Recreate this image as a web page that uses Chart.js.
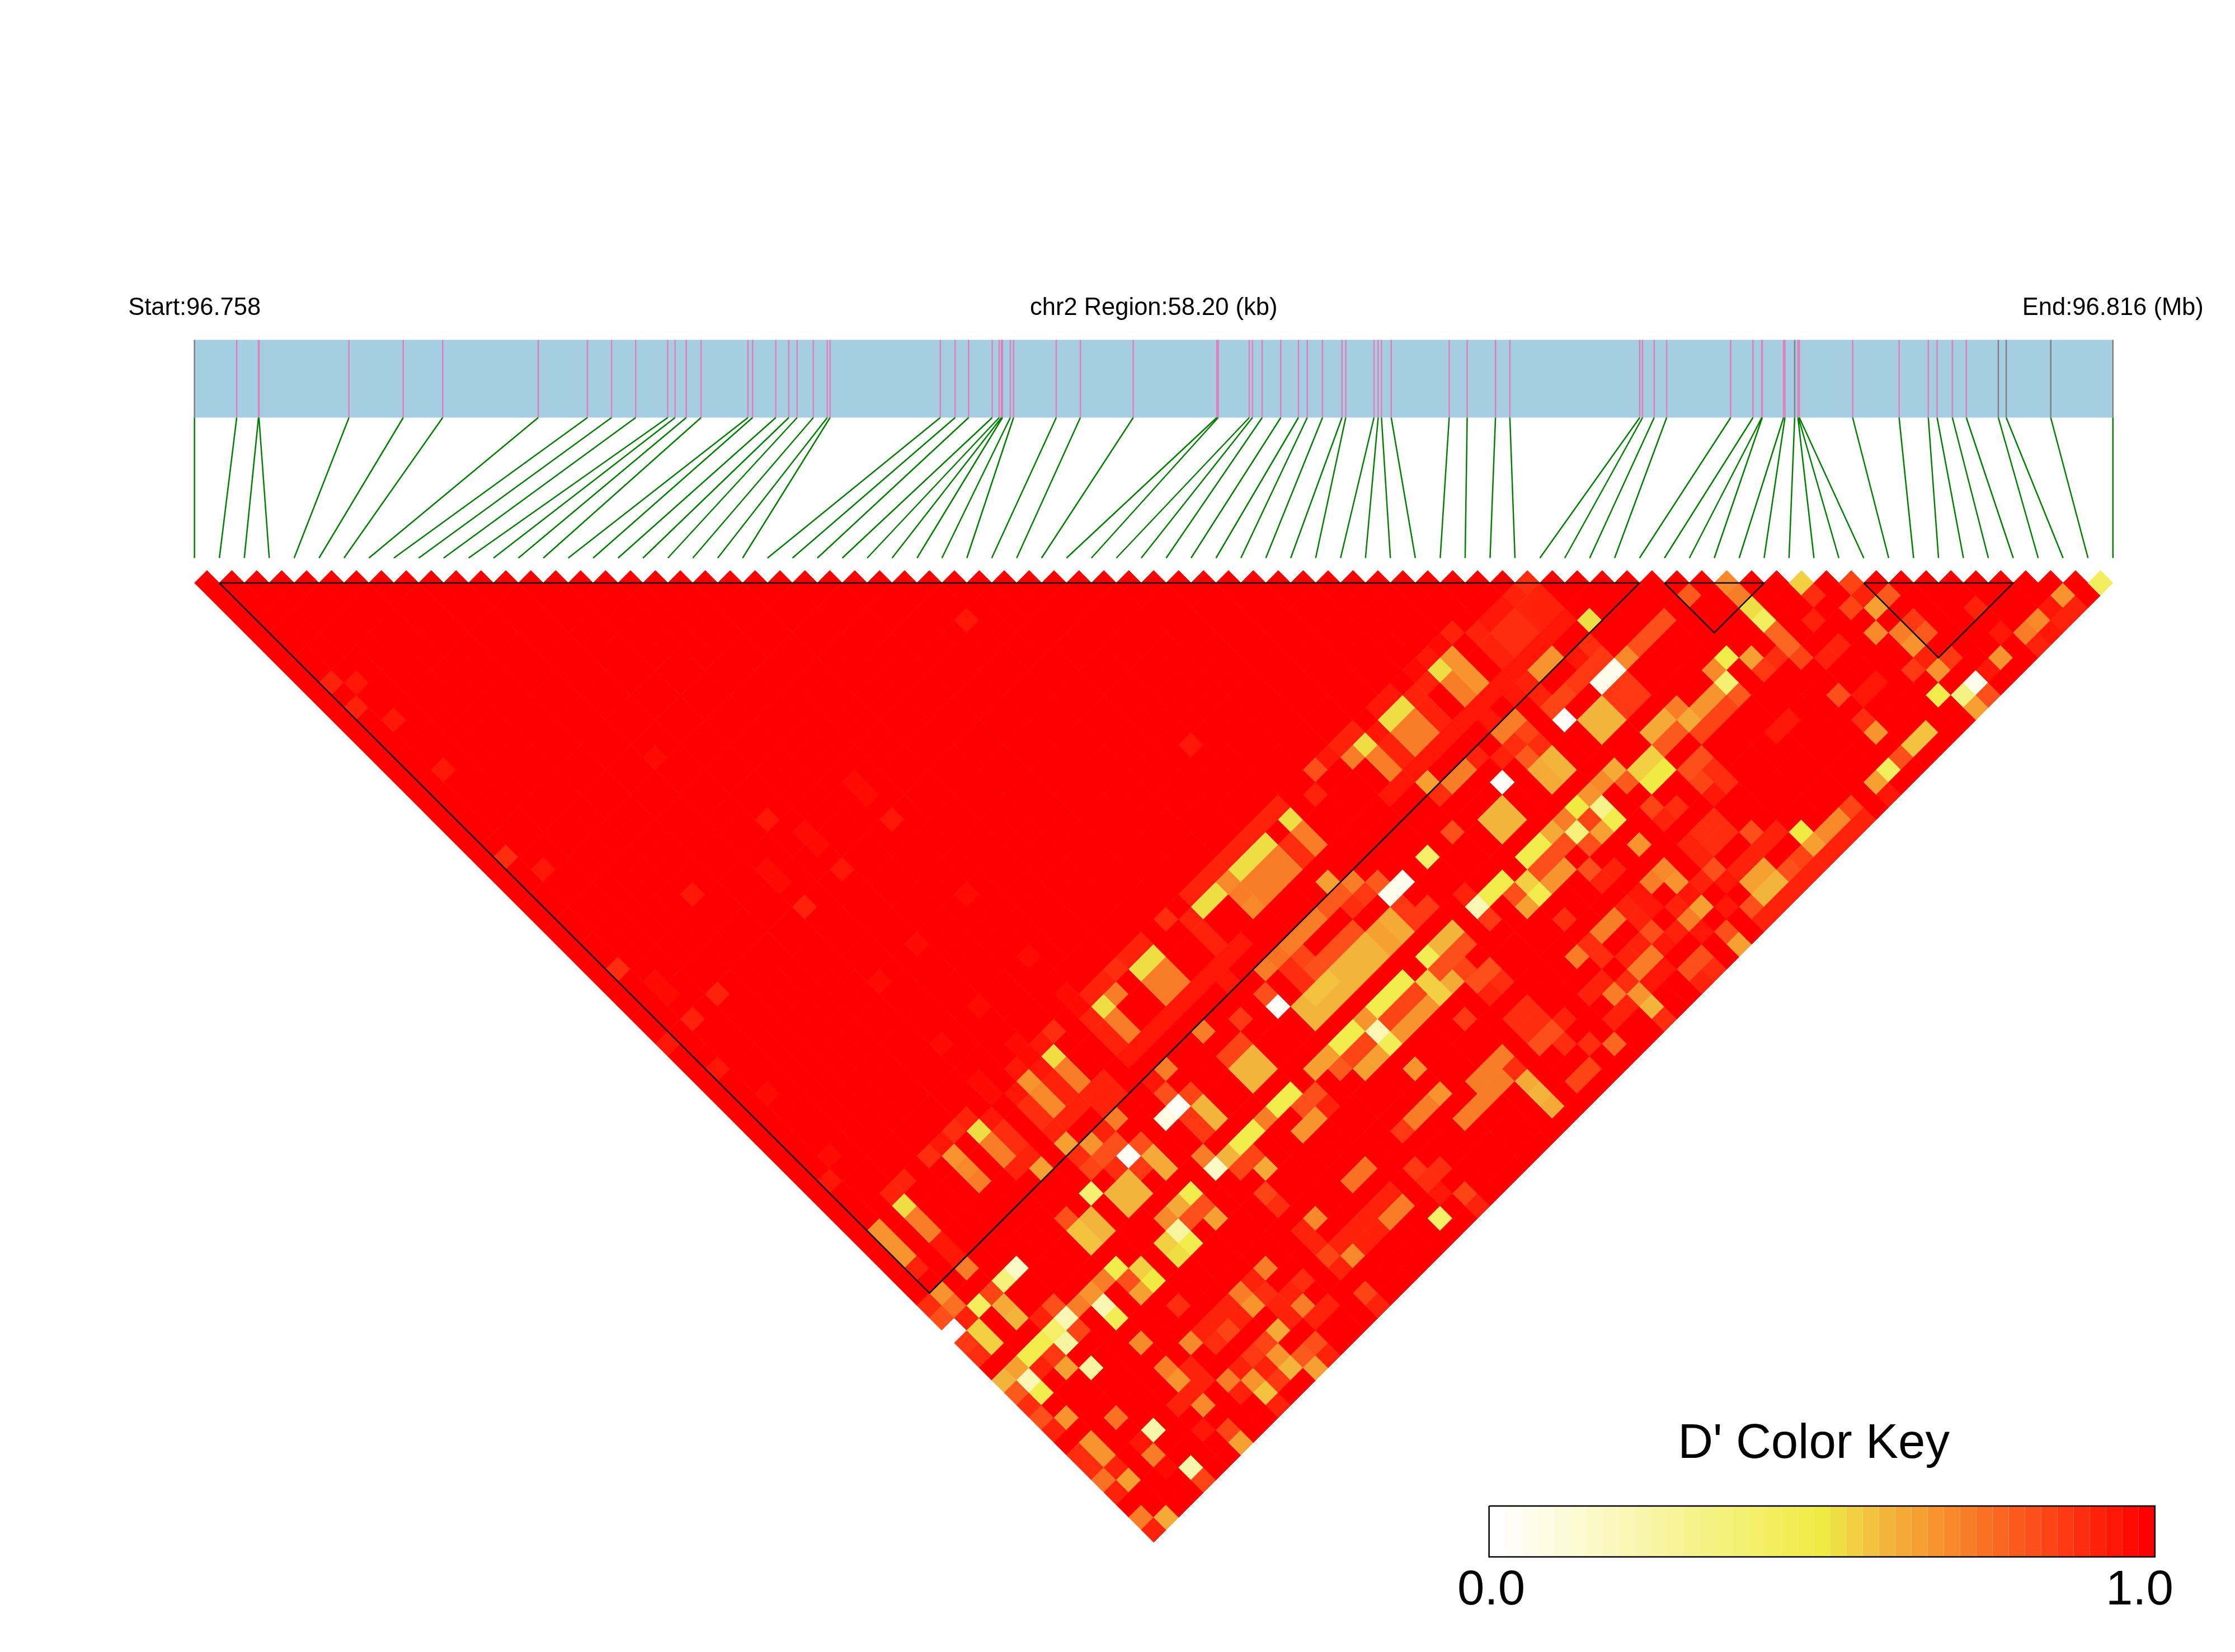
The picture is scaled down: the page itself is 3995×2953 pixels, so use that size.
<!DOCTYPE html>
<html>
<head>
<meta charset="utf-8">
<style>
body { margin: 0; background: #fff; }
canvas { display: block; }
</style>
<script src="https://cdn.jsdelivr.net/npm/chart.js@4"></script>
</head>
<body>
<canvas id="ld" width="3995" height="2953"></canvas>
<script>
// SNP positions along the region, in kb from the start
const snpKb = [0, 1.281, 1.942, 1.956, 4.686, 6.333, 7.529, 10.428, 11.92, 12.652, 13.385, 14.356, 14.58, 14.918, 15.368,
    16.79, 16.931, 17.635, 18.029, 18.282, 18.774, 19.197, 19.282, 22.625, 23.075, 23.484, 24.202, 24.412, 24.482, 24.511,
    24.75, 24.848, 26.144, 26.875, 28.479, 31.013, 31.056, 31.998, 32.096, 32.391, 32.955, 33.49, 33.758, 34.221, 34.813,
    34.926, 35.784, 35.91, 36.01, 36.306, 38.064, 38.61, 39.469, 39.905, 43.845, 43.93, 44.283, 44.661, 46.604, 47.28,
    47.547, 47.562, 48.208, 48.251, 48.546, 48.644, 48.658, 48.687, 50.304, 51.713, 52.599, 52.867, 53.33, 53.753, 54.724,
    54.963, 56.314, 58.2];
const greyTicks = [0, 64, 74, 75, 76, 77];
const regionKb = 58.2;

// LD blocks, first and last SNP
const blocks = [[1, 58], [59, 63], [67, 73]];

// pairs that are not D'=1, as [i+j, j-i, D']
const weakCells = [
    // faint ones in the big block
    [62,4,.94],[11,9,.93],[13,9,.96],[13,11,.93],[16,12,.96],[20,16,.96],[37,15,.97],[53,17,.97],[54,18,.97],[46,20,.95],
    [56,20,.95],[49,21,.97],[50,22,.97],[25,23,.9],[28,24,.95],[46,24,.97],[47,25,.97],[52,24,.95],[40,26,.95],[49,27,.92],
    [62,26,.97],[58,30,.97],[67,31,.97],[34,32,.9],[37,33,.98],[38,34,.98],[42,34,.92],[40,36,.92],[38,38,.95],[42,40,.96],
    [46,42,.98],[55,33,.98],[63,35,.98],[60,38,.98],[51,47,.98],[51,49,.96],[57,49,.95],[80,14,.95],
    // left edge of the coloured zone
    [69,37,.9],[68,38,.94],[66,38,.98],[67,39,.98],[69,39,.52],[68,40,.95],[69,41,.93],[70,42,.93],[70,40,.72],[71,41,.72],
    [66,40,.95],[67,41,.68],[68,42,.7],[69,43,.7],[66,42,.95],[67,43,.9],[68,44,.9],[63,41,.98],[64,42,.98],
    [73,41,.93],[72,42,.93],[71,43,.93],[70,44,.93],[69,45,.93],[74,42,.93],[73,43,.93],
    [73,35,.52],[74,34,.72],[73,33,.92],[72,34,.92],[74,32,.9],[70,34,.97],[71,35,.97],[72,36,.93],[73,37,.93],[74,38,.93],
    [74,36,.72],[75,37,.72],[75,39,.95],[76,38,.95],[77,37,.95],[78,36,.95],[79,35,.95],[80,34,.95],[81,33,.95],[82,32,.95],
    [83,31,.95],[84,30,.95],[83,33,.94],[76,32,.52],[77,31,.52],[75,31,.93],[76,30,.93],
    [63,45,.52],[62,44,.92],[64,44,.95],[61,45,.9],[60,46,.95],[59,47,.9],[65,45,.9],[66,46,.9],[64,46,.72],[65,47,.72],
    [61,47,.67],[62,48,.7],[67,47,.93],[68,48,.66],[66,48,.93],[70,46,.66],[72,46,.68],[73,45,.93],[74,44,.72],[71,47,.9],
    [72,48,.85],[73,47,.82],[74,46,.82],[75,47,.02],[76,46,.82],[77,47,.62],[78,48,.62],[74,48,.9],[76,48,.88],[78,44,.08],
    [79,43,.03],[78,42,.82],[77,41,.95],[78,40,.72],
    // upper part of the zone
    [101,5,.92],[100,6,.97],[99,7,.95],[98,8,.97],[101,7,.68],[100,8,.52],[102,8,.68],[103,9,.68],[101,9,.72],[102,10,.72],
    [103,5,.92],[104,6,.92],[105,7,.92],[104,4,.94],[105,3,.94],[106,2,.94],[96,10,.94],[95,11,.94],[97,11,.52],[96,12,.52],
    [98,10,.93],[99,9,.93],[99,11,.93],[100,12,.93],[104,10,.94],[103,11,.94],[102,12,.94],[101,13,.94],[100,14,.94],[99,15,.94],
    [98,16,.94],[97,17,.94],[96,18,.94],[105,9,.94],[104,12,.94],[103,15,.93],[102,16,.72],[101,17,.72],[99,17,.65],[100,18,.9],
    [98,12,.72],[97,13,.72],[99,13,.72],[98,14,.72],[96,14,.93],[97,15,.93],[95,13,.95],[94,14,.52],[93,13,.92],[92,14,.92],
    [91,15,.95],[90,16,.82],[93,15,.72],[95,15,.72],[96,16,.72],[90,18,.92],[87,19,.94],
    [107,1,.9],[123,1,.7],[129,1,.54],[133,1,.84],[153,1,.42],[106,2,.93],[108,2,.93],[120,2,.8],[124,2,.72],[130,2,.9],
    [134,2,.92],[136,2,.8],[150,2,.68],[105,3,.94],[107,3,.92],[109,3,.92],[125,3,.53],[135,3,.66],[133,3,.85],[143,3,.92],
    [149,3,.94],[151,3,.93],[106,4,.9],[108,4,.92],[110,4,.94],[112,4,.52],[126,4,.42],[118,4,.82],[130,4,.93],[138,4,.88],
    [148,4,.7],[150,4,.93],[105,5,.9],[107,5,.9],[109,5,.94],[117,5,.82],[127,5,.78],[135,5,.7],[137,5,.72],[139,5,.8],
    [145,5,.95],[147,5,.72],[149,5,.95],[106,6,.9],[108,6,.94],[112,6,.9],[116,6,.82],[128,6,.78],[132,6,.93],[138,6,.68],
    [148,6,.93],[107,7,.94],[109,7,.67],[111,7,.95],[113,7,.88],[115,7,.7],[123,7,.47],[125,7,.66],[127,7,.9],[129,7,.85],
    [131,7,.93],[139,7,.92],[141,7,.88],[145,7,.68],[106,8,.94],[108,8,.67],[112,8,.88],[114,8,.05],[122,8,.7],[126,8,.88],
    [138,8,.88],[140,8,.68],[144,8,.95],[107,9,.93],[111,9,.88],[113,9,.05],[115,9,.88],[123,9,.38],[135,9,.96],[143,9,.06],
    [106,10,.96],[108,10,.93],[110,10,.85],[114,10,.88],[116,10,.88],[122,10,.68],[124,10,.8],[132,10,.83],[134,10,.96],[140,10,.47],
    [142,10,.33],[144,10,.82],[109,11,.85],[113,11,.6],[115,11,.88],[119,11,.72],[121,11,.68],[123,11,.85],[143,11,.65],
    [106,12,.72],[110,12,.02],[112,12,.6],[114,12,.6],[118,12,.62],[120,12,.62],[122,12,.85],[128,12,.95],[134,12,.9],
    [105,13,.72],[107,13,.85],[113,13,.6],[117,13,.62],[119,13,.8],[121,13,.85],[127,13,.95],[135,13,.67],[139,13,.57],
    [106,14,.9],[108,14,.9],[118,14,.8],[138,14,.57],[103,15,.92],[105,15,.92],[107,15,.8],[109,15,.6],[117,15,.55],[121,15,.83],
    [137,15,.82],[108,16,.63],[110,16,.6],[114,16,.62],[116,16,.55],[118,16,.51],[120,16,.83],[122,16,.9],[136,16,.42],
    [105,17,.03],[109,17,.63],[113,17,.7],[115,17,.8],[117,17,.51],[121,17,.85],[123,17,.9],[135,17,.66],[112,18,.68],[122,18,.95],
    [136,18,.94],[105,19,.6],[111,19,.5],[113,19,.3],[117,19,.85],[119,19,.9],[133,19,.85],[104,20,.6],[106,20,.6],[110,20,.72],
    [112,20,.85],[114,20,.47],[118,20,.92],[122,20,.9],[132,20,.7],[134,20,.93],[101,21,.82],[105,21,.6],
    [129,21,.5],[131,21,.7],[103,22,.56],[130,22,.66],[99,23,.4],[102,23,.56],[104,23,.58],[103,24,.58],
    [97,25,.04],[105,25,.47],[96,26,.05],[102,26,.93],[104,26,.47],[98,27,.88],[103,27,.2],
    [97,27,.88],[99,27,.88],[104,28,.88],[96,28,.62],[98,28,.88],
    [131,23,.93],[130,24,.93],[129,25,.93],[133,21,.93],[132,22,.93],[129,23,.85],
    // right side window, read cell by cell
    [107,23,.47],[108,22,.47],[109,21,.62],[110,22,.82],[109,23,.82],[108,24,.82],[111,21,.35],[112,22,.82],[113,21,.65],
    [110,24,.67],[109,25,.67],[112,24,.83],[113,25,.93],[114,24,.93],[107,25,.55],[108,26,.48],[107,27,.65],[106,26,.82],[110,28,.9],
    [116,22,.67],[118,24,.7],[117,25,.73],[119,25,.68],[121,27,.64],[120,28,.72],[114,28,.72],[113,29,.72],[111,31,.72],
    [126,24,.66],[125,25,.66],[127,25,.6],[126,26,.6],[120,22,.92],[121,23,.92],[121,21,.9],[122,22,.9],[123,21,.9],
    [125,21,.83],[125,23,.92],[124,24,.92],[126,22,.92],[127,21,.92],[122,24,.83],[121,25,.93],[120,26,.95],[123,25,.95],[128,24,.83],
    [119,27,.92],[116,26,.94],[117,27,.94],[115,27,.92],[116,28,.92],[117,29,.83],[119,29,.93],[118,30,.95],[121,29,.95],
    [116,30,.92],[115,31,.92],[117,31,.72],[116,32,.72],[112,30,.9],[113,31,.9],[113,33,.92],[112,34,.92],
    [115,33,.9],[114,34,.72],[116,34,.68],[117,35,.6],[118,36,.9],[115,35,.93],[114,36,.93],[118,32,.95],[117,33,.95],
    [121,31,.82],[120,32,.82],[122,32,.9],[121,33,.92],[123,29,.82],[124,30,.66],[125,27,.83],[126,28,.93],[127,27,.92],[123,27,.95],[128,26,.92],
    [107,35,.9],[106,36,.9],[108,36,.9],[107,37,.9],[110,36,.92],[109,37,.82],[108,38,.82],[110,38,.9],[112,38,.9],[114,38,.78],
    // strips under the window
    [105,39,.72],[104,40,.72],[103,41,.72],[104,42,.72],[103,43,.72],[102,44,.72],[105,41,.72],[100,42,.68],[99,43,.72],[98,44,.72],
    [107,41,.62],[108,42,.6],[109,43,.62],[112,40,.85],[111,41,.85],[106,40,.9],
    // middle of the zone
    [86,22,.52],[85,23,.52],[84,24,.52],[82,26,.52],[81,27,.52],[88,20,.52],[87,19,.92],[86,20,.92],[85,21,.93],[84,22,.93],
    [83,23,.93],[82,24,.93],[81,25,.93],[80,26,.93],[89,21,.72],[90,22,.72],[88,22,.9],[89,23,.9],[86,24,.72],[87,23,.72],
    [88,24,.72],[87,25,.72],[85,25,.72],[83,25,.7],[84,26,.72],[85,27,.7],[86,26,.72],
    [78,28,.9],[80,28,.93],[81,29,.93],[82,30,.93],[77,33,.72],[78,32,.72],[79,33,.72],[78,34,.72],
    [91,25,.64],[93,25,.72],[92,26,.8],[91,27,.8],[95,25,.8],[94,26,.88],[93,27,.9],[97,29,.62],[95,29,.66],[96,30,.66],
    [94,30,.6],[93,31,.6],[92,32,.6],[95,31,.6],[94,32,.6],[93,33,.6],[91,33,.58],[90,34,.58],[92,34,.6],
    [91,35,.6],[89,35,.6],[90,36,.6],[91,31,.83],[90,32,.83],[92,30,.83],[93,29,.83],[90,28,.72],[89,29,.72],[88,30,.72],
    [86,32,.72],[87,31,.75],[89,31,.85],[89,33,.9],[88,32,.9],[86,34,.82],[87,35,.03],[101,29,.6],[100,30,.6],
    [102,30,.82],[101,31,.82],[99,31,.45],[100,32,.82],[99,33,.54],[100,34,.54],[101,33,.63],[97,33,.47],[96,34,.47],[95,35,.47],
    [94,36,.67],[95,37,.2],[96,38,.45],[93,37,.47],[92,38,.47],[94,38,.85],[98,34,.85],[97,35,.85],[96,36,.85],[99,35,.67],
    [98,36,.67],[97,37,.67],[93,39,.85],[91,39,.66],[90,40,.66],[92,40,.8],[95,39,.65],[94,40,.65],[102,32,.85],[104,32,.83],
    [103,33,.83],[105,33,.9],[104,34,.92],[102,36,.88],[98,40,.68],[88,42,.47],[87,43,.47],[90,42,.82],[89,43,.82],[91,43,.92],
    [86,44,.72],[89,45,.68],[90,44,.68],[85,45,.47],[84,46,.47],[83,47,.6],[82,48,.15],[85,47,.85],[86,48,.72],[85,39,.6],
    [84,40,.6],[86,40,.6],[85,41,.6],[83,39,.85],[84,38,.85],[84,36,.88],[81,37,.72],[80,42,.85],[81,43,.6],[82,44,.6],
    [80,44,.88],[81,45,.88],
    // lower part
    [80,50,.47],[79,51,.62],[81,51,.82],[82,52,.65],[78,52,.7],[80,52,.82],[79,53,.25],[78,54,.55],[80,54,.47],[79,55,.52],
    [72,50,.37],[75,49,.6],[74,50,.6],[76,50,.6],[75,51,.6],[72,52,.6],[71,53,.58],[73,53,.6],[72,54,.58],[70,52,.82],
    [66,56,.15],[65,57,.35],[63,59,.42],[65,59,.62],[66,60,.6],[64,58,.85],[60,58,.68],[61,59,.75],[59,59,.9],[60,60,.82],
    [62,60,.93],[57,51,.52],[56,50,.93],[57,49,.92],[55,53,.68],[56,54,.68],[57,55,.68],[58,52,.72],[59,53,.72],[60,54,.95],
    [61,55,.95],[62,56,.72],[63,49,.72],[58,56,.93],[63,61,.55],[64,62,.55],[62,62,.88],[63,63,.9],[61,61,0],[66,64,.65],
    [68,62,.47],[67,63,.47],[67,65,.2],[68,66,.47],[65,65,.6],[66,66,.8],[67,67,.9],[70,60,.2],[69,61,.4],[70,62,.25],
    [69,59,.82],[68,60,.92],[71,59,.72],[72,58,.68],[73,59,.2],[74,60,.45],[73,57,.72],[74,56,.47],[76,56,.55],[77,57,.5],
    [76,58,.65],[75,57,.82],[71,61,.85],[69,63,.88],[70,64,.65],[72,64,.25],[68,64,.92],[70,68,.68],[68,68,.82],[69,69,.92],
    [74,68,.75],[77,69,.22],[72,70,.68],[73,71,.68],[71,71,.9],[72,72,.9],[73,73,.75],[75,73,.65],[74,72,.92],[74,74,.92],
    [76,70,.95],[77,71,.72],[78,72,.97],[80,72,.22],[81,73,.85],[76,76,.72],[78,76,.62],[77,77,.92],[81,69,.95],[83,69,.85],
    [84,70,.65],[79,67,.92],[81,67,.7],[80,66,.92],[78,64,.72],[79,65,.68],[76,62,.7],[80,62,.7],[81,61,.92],[82,62,.9],
    [79,59,.9],[86,56,.72],[84,58,.72],[85,59,.68],[87,61,.62],[88,64,.6],[87,63,.67],[86,66,.58],[90,64,.65],[89,63,.8],
    [89,59,.72],[91,59,.92],[89,57,.9],[90,52,.7],[93,49,.75],[94,48,.75],[86,50,.85],[87,51,.9],[100,52,.4],[97,51,.72],
    [96,52,.72],[93,55,.7],[91,55,.85],[94,58,.85],[81,47,.72],[86,48,.62],[84,48,.85],
    // lower right strips
    [99,46,.9],[98,47,.9],[101,46,.72],[102,45,.66],[100,47,.72],[98,48,.88],[99,49,.9],[100,48,.9],[102,50,.85],[100,50,.95],
    [103,51,.92],[96,50,.92],[95,51,.92],[94,52,.92],[93,53,.92],[92,54,.92],[95,53,.92],[94,54,.92],[89,53,.92],[90,54,.92],
    [92,56,.92],[95,59,.92],[88,58,.92],[87,59,.92],[86,58,.9],[85,57,.92],[83,59,.92],[84,60,.92],[86,62,.85],[88,60,.92],
    [90,60,.92],[90,62,.82],[91,63,.92],[84,64,.92],[83,65,.72],[86,64,.92],[85,65,.68],[87,65,.88],[84,66,.92],[81,65,.92],
    [80,64,.92],[82,60,.92],[83,61,.85],[85,63,.88],[87,67,.92],[97,45,.88]
];

// colour key: D' at each stop, and r g b
const keySteps = 41;
const rampStops = [0, .5, .525, .55, .6, .65, .8, 1];
const rampColors = [[255,255,255], [240,235,65], [238,222,68], [242,208,66], [243,180,60], [246,160,50], [252,90,28], [255,0,0]];

const labelStart = 'Start:96.758', labelRegion = 'chr2 Region:58.20 (kb)', labelEnd = 'End:96.816 (Mb)';
const keyTitle = "D' Color Key", keyLow = '0.0', keyHigh = '1.0';

function dColor(d) {
    // the key is made of discrete steps
    const v = Math.round(d * (keySteps - 1)) / (keySteps - 1);
    let k = 0;
    while (k < rampStops.length - 2 && v > rampStops[k + 1]) k++;
    const t = (v - rampStops[k]) / (rampStops[k + 1] - rampStops[k]);
    const c = rampColors[k].map((x, n) => Math.round(x + (rampColors[k + 1][n] - x) * t));
    return `rgb(${c[0]},${c[1]},${c[2]})`;
}

const snpCount = snpKb.length;
const weak = {};
weakCells.forEach(c => { weak[c[0] + '_' + c[1]] = c[2]; });

const cellData = [];
const cellColors = [];
for (let i = 0; i < snpCount; i++) {
    for (let j = i + 1; j < snpCount; j++) {
        const key = (i + j) + '_' + (j - i);
        cellData.push({ x: (i + j) / 2, y: j - i });
        cellColors.push(dColor(key in weak ? weak[key] : 1));
    }
}

const toMarker = kb => kb / regionKb * (snpCount - 1);

// page rows of the gene band and the connector lines
const bandTop = 607.5, bandBottom = 746.5, connectBottom = 997.5;
const keyTop = 2692, keyBottom = 2783;

const pinkTicks = [], greyTickPts = [], connectors = [];
snpKb.forEach((kb, n) => {
    const pts = greyTicks.includes(n) ? greyTickPts : pinkTicks;
    pts.push({ x: toMarker(kb), y: bandTop }, { x: toMarker(kb), y: bandBottom }, { x: toMarker(kb), y: NaN });
    connectors.push({ x: toMarker(kb), y: bandBottom }, { x: n, y: connectBottom }, { x: n, y: NaN });
});

const lineSet = (data, color, width, extra) => Object.assign({
    type: 'line', data: data, borderColor: color, borderWidth: width, pointRadius: 0,
    fill: false, tension: 0, spanGaps: false, borderCapStyle: 'butt', borderJoinStyle: 'miter',
}, extra);

const datasets = [];

blocks.forEach(b => {
    const data = [{ x: b[0], y: 1 }, { x: b[1], y: 1 }, { x: (b[0] + b[1]) / 2, y: b[1] - b[0] + 1 }, { x: b[0], y: 1 }];
    datasets.push(lineSet(data, '#000', 2.5, { xAxisID: 'x', yAxisID: 'y', order: 1 }));
});

datasets.push({
    type: 'scatter', data: cellData, pointStyle: 'rectRot', pointRadius: 22.27,
    backgroundColor: cellColors, borderColor: cellColors, borderWidth: 1, xAxisID: 'x', yAxisID: 'y', order: 2,
});

datasets.push(lineSet(connectors, '#008000', 2.5, { xAxisID: 'x', yAxisID: 'pageY', order: 3 }));
datasets.push(lineSet(greyTickPts, '#808080', 2.5, { xAxisID: 'x', yAxisID: 'pageY', order: 4 }));
datasets.push(lineSet(pinkTicks, '#e080ba', 2.5, { xAxisID: 'x', yAxisID: 'pageY', order: 5 }));
datasets.push(lineSet([{ x: 0, y: (bandTop + bandBottom) / 2 }, { x: snpCount - 1, y: (bandTop + bandBottom) / 2 }],
    '#a6cee3', bandBottom - bandTop, { xAxisID: 'x', yAxisID: 'pageY', order: 6 }));

// colour key strips
const keyMid = (keyTop + keyBottom) / 2;
datasets.push(lineSet([{ x: 0, y: keyTop }, { x: 1, y: keyTop }, { x: 1, y: keyBottom }, { x: 0, y: keyBottom }, { x: 0, y: keyTop }],
    '#000', 2.5, { xAxisID: 'keyX', yAxisID: 'pageY', order: 7 }));
for (let n = 0; n < keySteps; n++) {
    const v = n / (keySteps - 1);
    datasets.push(lineSet([{ x: n / keySteps, y: keyMid }, { x: (n + 1) / keySteps, y: keyMid }],
        dColor(v), keyBottom - keyTop, { xAxisID: 'keyX', yAxisID: 'pageY', order: 8 }));
}

const pageText = {
    id: 'pageText',
    afterDraw(chart) {
        const ctx = chart.ctx, sx = chart.scales.x, px = chart.scales.keyX, py = chart.scales.pageY;
        ctx.save();
        ctx.fillStyle = '#000';
        ctx.textBaseline = 'alphabetic';
        ctx.font = '43.5px "Liberation Sans"';
        ctx.textAlign = 'center';
        ctx.fillText(labelStart, sx.getPixelForValue(0), py.getPixelForValue(563));
        ctx.fillText(labelRegion, sx.getPixelForValue((snpCount - 1) / 2), py.getPixelForValue(563));
        ctx.fillText(labelEnd, sx.getPixelForValue(snpCount - 1), py.getPixelForValue(563));
        ctx.font = '87px "Liberation Sans"';
        ctx.fillText(keyTitle, px.getPixelForValue(0.4877), py.getPixelForValue(2606));
        ctx.fillText(keyLow, px.getPixelForValue(0.0033), py.getPixelForValue(2868));
        ctx.fillText(keyHigh, px.getPixelForValue(0.977), py.getPixelForValue(2868));
        ctx.restore();
    },
};

new Chart(document.getElementById('ld').getContext('2d'), {
    type: 'scatter',
    data: { datasets: datasets },
    plugins: [pageText],
    options: {
        responsive: false,
        animation: false,
        events: [],
        devicePixelRatio: 1,
        layout: { padding: 0, autoPadding: false },
        plugins: { legend: { display: false }, tooltip: { enabled: false }, title: { display: false } },
        scales: {
            x: { type: 'linear', display: false, min: -7.806, max: 81.9 },
            y: { type: 'linear', display: false, reverse: true, min: -45.79, max: 86.81 },
            pageY: { type: 'linear', display: false, reverse: true, min: 0, max: 2953 },
            keyX: { type: 'linear', display: false, min: -2.2363, max: 1.1203 },
        },
    },
});
</script>
</body>
</html>
